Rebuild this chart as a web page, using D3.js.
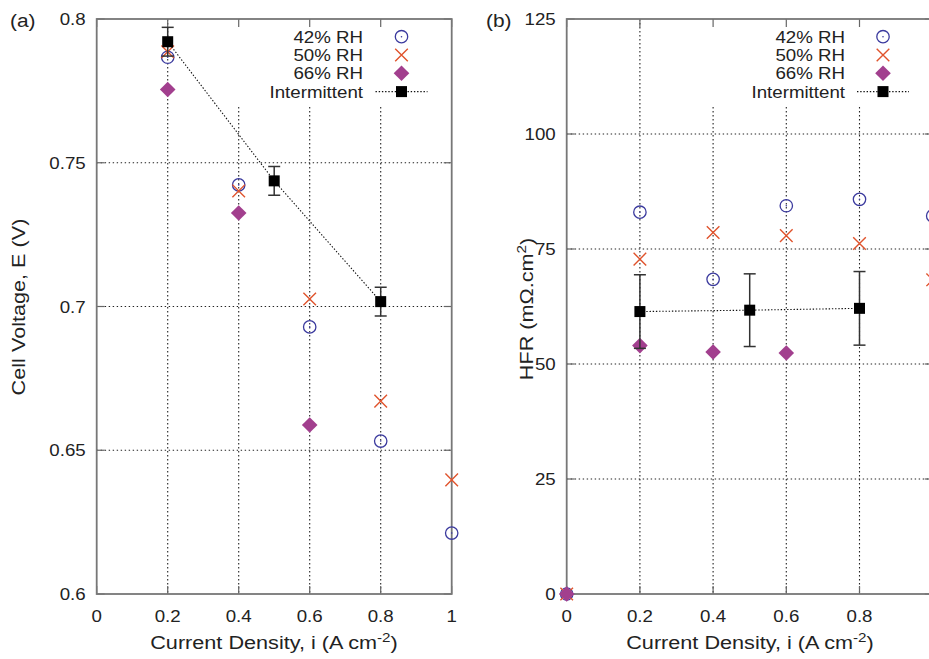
<!DOCTYPE html>
<html>
<head>
<meta charset="utf-8">
<script src="https://cdn.jsdelivr.net/npm/d3@7"></script>
<style>
  body { margin: 0; background: #fff; }
  svg { display: block; font-family: "Liberation Sans", Arial, Helvetica, sans-serif; }
</style>
</head>
<body>
<svg id="chart" width="929" height="659"></svg>
<script>
// ---- Data ----------------------------------------------------------------
// (a) cell voltage vs current density
const currentA = [0.2, 0.4, 0.6, 0.8, 1.0];
const voltage42 = [0.7867, 0.7423, 0.6929, 0.6532, 0.6212];
const voltage50 = [0.7886, 0.7402, 0.7026, 0.6671, 0.6397];
const current66A = [0.2, 0.4, 0.6];
const voltage66 = [0.7755, 0.7325, 0.6588];
const currentInter = [0.2, 0.5, 0.8];
const voltageInter = [0.7921, 0.7437, 0.7017];
const voltageInterErr = [0.005, 0.005, 0.005];

// (b) high-frequency resistance vs current density
const currentB = [0, 0.2, 0.4, 0.6, 0.8, 1.0];
const hfr42 = [0, 83.0, 68.4, 84.4, 85.8, 82.2];
const hfr50 = [0, 72.8, 78.6, 77.9, 76.2, 68.3];
const current66B = [0, 0.2, 0.4, 0.6];
const hfr66 = [0, 54.0, 52.6, 52.4];
const hfrInter = [61.4, 61.7, 62.1];
const hfrInterErr = [8.0, 7.9, 8.0];

// Tick values and labels
const currentTicks = [0, 0.2, 0.4, 0.6, 0.8, 1];
const currentTickLabels = ["0", "0.2", "0.4", "0.6", "0.8", "1"];
const voltageTicks = [0.6, 0.65, 0.7, 0.75, 0.8];
const voltageTickLabels = ["0.6", "0.65", "0.7", "0.75", "0.8"];
const hfrTicks = [0, 25, 50, 75, 100, 125];
const hfrTickLabels = ["0", "25", "50", "75", "100", "125"];

const seriesNames = ["42% RH", "50% RH", "66% RH", "Intermittent"];

// ---- Styles --------------------------------------------------------------
const W = 929;
const COL42 = "#3b3a9e";
const COL50 = "#e0532c";
const COL66 = "#a23f8e";
const COLINT = "#000";
const TXT = "#222";
const GRID_DASH = "1.4,2.6";
const LABEL_SIZE = 17, TITLE_SIZE = 18.5, WIDEN = 1.1, TITLE_WIDEN = 1.17;

const svg = d3.select("#chart");

// text placed with a slight horizontal widening (wide Helvetica-like look)
function label(g, x, y, str, opts = {}) {
  const sx = opts.widen || WIDEN;
  const rot = opts.rotate ? " rotate(-90)" : "";
  return g.append("text")
    .attr("transform", `translate(${x},${y})${rot} scale(${sx},1)`)
    .attr("text-anchor", opts.anchor || "start")
    .attr("font-size", opts.size || LABEL_SIZE)
    .attr("fill", TXT)
    .text(str);
}

// ---- Marker helpers ------------------------------------------------------
function drawCircle(g, x, y) {
  g.append("circle").attr("cx", x).attr("cy", y).attr("r", 6.2)
    .attr("fill", "none").attr("stroke", COL42).attr("stroke-width", 1.3);
  g.append("circle").attr("cx", x).attr("cy", y).attr("r", 0.8).attr("fill", COL42);
}
function drawCross(g, x, y) {
  const s = 6.3;
  g.append("path").attr("d", `M${x - s},${y - s}L${x + s},${y + s}M${x - s},${y + s}L${x + s},${y - s}`)
    .attr("stroke", COL50).attr("stroke-width", 1.4).attr("fill", "none");
}
function drawDiamond(g, x, y) {
  const s = 7.8;
  g.append("path").attr("d", `M${x},${y - s}L${x + s},${y}L${x},${y + s}L${x - s},${y}Z`)
    .attr("fill", COL66);
}
function drawSquare(g, x, y) {
  const s = 5.5;
  g.append("rect").attr("x", x - s).attr("y", y - s).attr("width", 2 * s).attr("height", 2 * s)
    .attr("fill", COLINT);
}

// ---- Panel builder -------------------------------------------------------
function drawPanel(cfg) {
  const g = svg.append("g");
  const x = d3.scaleLinear().domain([0, 1]).range([cfg.left, cfg.right]);
  const y = d3.scaleLinear().domain(cfg.yDomain).range([cfg.bottom, cfg.top]);

  // grid
  const gridX = currentTicks.filter(v => v > 0 && v < 1);
  const gridY = cfg.yTicks.slice(1, -1);
  g.selectAll(".gx").data(gridX).join("line")
    .attr("x1", d => x(d)).attr("x2", d => x(d))
    .attr("y1", cfg.top).attr("y2", cfg.bottom)
    .attr("stroke", "#222").attr("stroke-width", 1.1).attr("stroke-dasharray", GRID_DASH);
  g.selectAll(".gy").data(gridY).join("line")
    .attr("x1", cfg.left).attr("x2", cfg.right)
    .attr("y1", d => y(d)).attr("y2", d => y(d))
    .attr("stroke", "#222").attr("stroke-width", 1.1).attr("stroke-dasharray", GRID_DASH);

  // opaque key box
  g.append("rect").attr("x", cfg.keyBoxLeft).attr("y", cfg.top + 1)
    .attr("width", cfg.right - cfg.keyBoxLeft - 1).attr("height", 86)
    .attr("fill", "#fff");

  // ticks (inward, all four sides)
  const tl = 8;
  const tickStyle = sel => sel.attr("stroke", "#666").attr("stroke-width", 1.2);
  currentTicks.forEach(v => {
    tickStyle(g.append("line").attr("x1", x(v)).attr("x2", x(v)).attr("y1", cfg.bottom).attr("y2", cfg.bottom - tl));
    tickStyle(g.append("line").attr("x1", x(v)).attr("x2", x(v)).attr("y1", cfg.top).attr("y2", cfg.top + tl));
  });
  cfg.yTicks.forEach(v => {
    tickStyle(g.append("line").attr("x1", cfg.left).attr("x2", cfg.left + tl).attr("y1", y(v)).attr("y2", y(v)));
    tickStyle(g.append("line").attr("x1", cfg.right).attr("x2", cfg.right - tl).attr("y1", y(v)).attr("y2", y(v)));
  });

  // border
  g.append("rect").attr("x", cfg.left).attr("y", cfg.top)
    .attr("width", cfg.right - cfg.left).attr("height", cfg.bottom - cfg.top)
    .attr("fill", "none").attr("stroke", "#777").attr("stroke-width", 1.8);

  // tick labels (only those that land inside the canvas)
  currentTicks.forEach((v, i) => {
    if (x(v) + 6 < W) label(g, x(v), cfg.bottom + 28, currentTickLabels[i], { anchor: "middle" });
  });
  cfg.yTicks.forEach((v, i) => {
    label(g, cfg.left - 11, y(v) + 6, cfg.yTickLabels[i], { anchor: "end" });
  });

  // panel tag
  label(g, cfg.tagX, 27, cfg.tag, { size: 19 });

  // axis titles
  const xt = g.append("text")
    .attr("transform", `translate(${cfg.xTitleX},649) scale(${TITLE_WIDEN},1)`)
    .attr("text-anchor", "middle").attr("font-size", TITLE_SIZE).attr("fill", TXT);
  xt.append("tspan").text("Current Density, i (A cm");
  xt.append("tspan").attr("font-size", 13).attr("dy", -7).text("-2");
  xt.append("tspan").attr("dy", 7).text(")");

  const yt = g.append("text")
    .attr("transform", `translate(${cfg.yTitleX},${cfg.yTitleY}) rotate(-90) scale(${TITLE_WIDEN},1)`)
    .attr("text-anchor", "middle").attr("font-size", TITLE_SIZE).attr("fill", TXT);
  cfg.yTitle(yt);

  // scatter series
  const gd = g.append("g");
  cfg.s42x.forEach((c, i) => drawCircle(gd, x(c), y(cfg.s42y[i])));
  cfg.s50x.forEach((c, i) => drawCross(gd, x(c), y(cfg.s50y[i])));
  cfg.s66x.forEach((c, i) => drawDiamond(gd, x(c), y(cfg.s66y[i])));

  // intermittent: dotted line, error bars, squares
  const line = d3.line().x((d, i) => x(currentInter[i])).y(d => y(d));
  gd.append("path").attr("d", line(cfg.intY)).attr("fill", "none")
    .attr("stroke", "#111").attr("stroke-width", 1.1).attr("stroke-dasharray", "1.4,1.8");
  cfg.intY.forEach((v, i) => {
    const cx = x(currentInter[i]);
    const yt1 = y(v + cfg.intErr[i]), yb1 = y(v - cfg.intErr[i]);
    const eb = sel => sel.attr("stroke", "#333").attr("stroke-width", 1.5);
    eb(gd.append("line").attr("x1", cx).attr("x2", cx).attr("y1", yt1).attr("y2", yb1));
    eb(gd.append("line").attr("x1", cx - 6).attr("x2", cx + 6).attr("y1", yt1).attr("y2", yt1));
    eb(gd.append("line").attr("x1", cx - 6).attr("x2", cx + 6).attr("y1", yb1).attr("y2", yb1));
    drawSquare(gd, cx, y(v));
  });

  // key
  const rowY = [36.7, 55, 73.3, 91.6];
  seriesNames.forEach((name, i) => {
    label(g, cfg.keyTextX, rowY[i] + 6, name, { anchor: "end" });
  });
  const mk = cfg.keyMarkX;
  drawCircle(g, mk, rowY[0]);
  drawCross(g, mk, rowY[1]);
  drawDiamond(g, mk, rowY[2]);
  g.append("line").attr("x1", mk - 26).attr("x2", mk + 26).attr("y1", rowY[3]).attr("y2", rowY[3])
    .attr("stroke", "#111").attr("stroke-width", 1.1).attr("stroke-dasharray", "1.4,1.8");
  drawSquare(g, mk, rowY[3]);
}

drawPanel({
  left: 96.7, right: 451.7, top: 19, bottom: 594,
  yDomain: [0.6, 0.8], yTicks: voltageTicks, yTickLabels: voltageTickLabels,
  tag: "(a)", tagX: 10, xTitleX: 274,
  yTitleX: 25, yTitleY: 307,
  yTitle: t => t.text("Cell Voltage, E (V)"),
  keyBoxLeft: 205, keyTextX: 363, keyMarkX: 401.5,
  s42x: currentA, s42y: voltage42,
  s50x: currentA, s50y: voltage50,
  s66x: current66A, s66y: voltage66,
  intY: voltageInter, intErr: voltageInterErr
});

drawPanel({
  left: 566.7, right: 932.7, top: 19, bottom: 594,
  yDomain: [0, 125], yTicks: hfrTicks, yTickLabels: hfrTickLabels,
  tag: "(b)", tagX: 486, xTitleX: 750,
  yTitleX: 533, yTitleY: 309,
  yTitle: t => {
    t.append("tspan").text("HFR (m\u03A9.cm");
    t.append("tspan").attr("font-size", 13).attr("dy", -7).text("2");
    t.append("tspan").attr("dy", 7).text(")");
  },
  keyBoxLeft: 680, keyTextX: 845, keyMarkX: 883,
  s42x: currentB, s42y: hfr42,
  s50x: currentB, s50y: hfr50,
  s66x: current66B, s66y: hfr66,
  intY: hfrInter, intErr: hfrInterErr
});
</script>
</body>
</html>
